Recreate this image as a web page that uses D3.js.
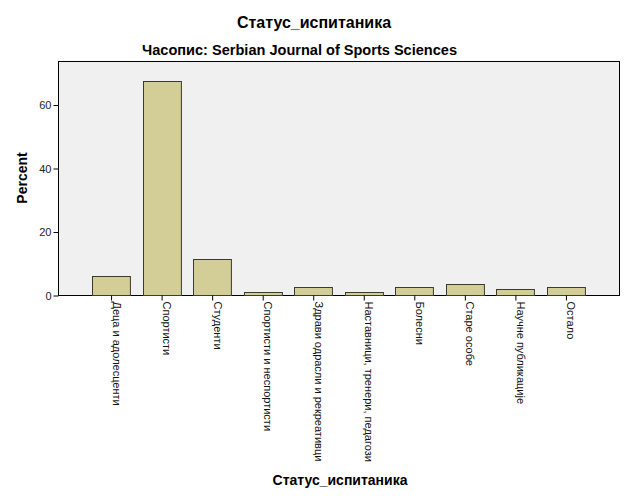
<!DOCTYPE html>
<html>
<head>
<meta charset="utf-8">
<script src="https://cdn.jsdelivr.net/npm/d3@7"></script>
<style>
  body { margin: 0; background: #fff; }
  text { font-family: "Liberation Sans", Arial, sans-serif; }
</style>
</head>
<body>
<svg width="627" height="502"></svg>
<script>
var categories = ["Деца и адолесценти", "Спортисти", "Студенти", "Спортисти и неспортисти",
  "Здрави одрасли и рекреативци", "Наставници, тренери, педагози", "Болесни",
  "Старе особе", "Научне публикације", "Остало"];
var percent = [6.14, 67.54, 11.40, 0.88, 2.63, 0.88, 2.63, 3.51, 1.75, 2.63];
var yTicks = [0, 20, 40, 60];

var svg = d3.select("svg");
var plotL = 58, plotR = 619, plotT = 61, plotB = 295;

var x = d3.scalePoint()
  .domain(categories)
  .range([plotL, plotR])
  .padding(1.05);
var barW = x.step() * 0.75;

var y = d3.scaleLinear()
  .domain([0, 73.7])
  .range([plotB, plotT]);

// plot frame
svg.append("rect")
  .attr("x", plotL + 0.5).attr("y", plotT + 0.5)
  .attr("width", plotR - plotL).attr("height", plotB - plotT)
  .attr("fill", "#f0f0f0")
  .attr("stroke", "#000");

// bars
svg.append("g").selectAll("rect")
  .data(percent)
  .enter().append("rect")
  .attr("x", function(d, i) { return Math.round(x(categories[i]) - barW / 2) + 0.5; })
  .attr("y", function(d) { return Math.round(y(d)) + 0.5; })
  .attr("width", barW)
  .attr("height", function(d) { return Math.round(plotB - y(d)); })
  .attr("fill", "#d3ce97")
  .attr("stroke", "#3a3a2e");

// y axis
var yAxis = svg.append("g")
  .attr("transform", "translate(" + (plotL + 0.5) + ",0.5)")
  .call(d3.axisLeft(y).tickValues(yTicks).tickSize(5).tickPadding(2));
yAxis.select(".domain").remove();
yAxis.selectAll("text").attr("font-size", 11).attr("fill", "#222")
  .style("font-family", "Liberation Sans, Arial, sans-serif");

// x axis
var xAxis = svg.append("g")
  .attr("transform", "translate(0," + (plotB + 0.5) + ")")
  .call(d3.axisBottom(x).tickSize(5).tickSizeOuter(0));
xAxis.select(".domain").remove();
xAxis.selectAll("text")
  .attr("font-size", 11).attr("fill", "#111")
  .style("font-family", "Liberation Sans, Arial, sans-serif")
  .attr("text-anchor", "start")
  .attr("dy", null)
  .attr("y", 0)
  .attr("transform", "translate(0,6) rotate(90) translate(0,-1)");

// titles
svg.append("text")
  .attr("x", 314).attr("y", 28)
  .attr("text-anchor", "middle")
  .attr("font-size", 16).attr("font-weight", "bold")
  .text("Статус_испитаника");

// subtitle is a condensed face in the original, so squeeze it to the same width
svg.append("text")
  .attr("x", 142).attr("y", 55)
  .attr("font-size", 14).attr("font-weight", "bold")
  .attr("textLength", 315)
  .attr("lengthAdjust", "spacingAndGlyphs")
  .text("Часопис: Serbian Journal of Sports Sciences");

svg.append("text")
  .attr("transform", "translate(27,178) rotate(-90)")
  .attr("text-anchor", "middle")
  .attr("font-size", 14).attr("font-weight", "bold")
  .text("Percent");

svg.append("text")
  .attr("x", 340).attr("y", 485)
  .attr("text-anchor", "middle")
  .attr("font-size", 14).attr("font-weight", "bold")
  .text("Статус_испитаника");
</script>
</body>
</html>
